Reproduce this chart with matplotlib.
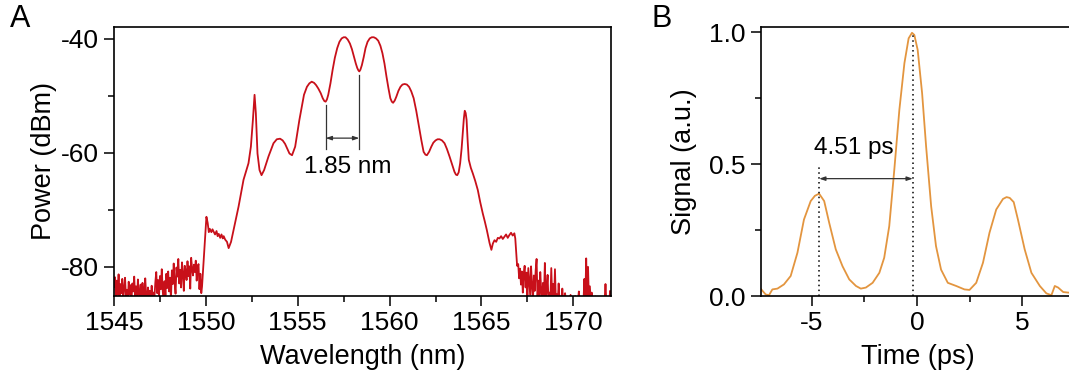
import numpy as np
import matplotlib
matplotlib.use("Agg")
import matplotlib.pyplot as plt
from matplotlib.ticker import MultipleLocator, FormatStrFormatter

plt.rcParams['font.family'] = ['Liberation Sans', 'DejaVu Sans']
plt.rcParams['axes.unicode_minus'] = False

# ---------------- Panel A data: optical spectrum ----------------
noise_left_start = 1545.0
noise_left_db = [
    -83.5, -81.8, -85.6, -82.4, -84.9, -81.3, -86.0, -83.0, -84.6, -82.1,
    -85.8, -83.7, -81.9, -85.2, -84.0, -86.2, -82.6, -84.8, -83.2, -85.9,
    -82.9, -84.3, -81.7, -85.5, -83.4, -86.1, -82.2, -84.7, -85.3, -83.1,
    -86.0, -82.8, -84.4, -85.7, -82.0, -84.9, -86.3, -83.6, -85.1, -84.2,
    -85.8, -83.3, -86.0, -84.5, -85.4, -82.7, -80.9, -84.6, -82.3, -85.2,
    -81.6, -83.9, -80.4, -84.1, -86.2, -82.5, -85.0, -81.2, -83.7, -80.8,
    -84.3, -81.9, -85.6, -80.6, -83.0, -79.4, -82.8, -84.7, -80.1, -81.7,
    -78.6, -82.9, -80.5, -83.6, -79.2, -81.1, -84.2, -79.8, -80.7, -82.3,
    -79.0, -81.6, -79.9, -83.8, -78.4, -80.3, -81.5, -79.6, -80.9, -78.9,
    -82.4, -80.1, -79.5, -83.9, -81.2, -84.6,
]

main_wl = [
    1549.79, 1549.88, 1550.03, 1550.10, 1550.16, 1550.21, 1550.30, 1550.36, 1550.42,
    1550.50, 1550.58, 1550.64, 1550.70, 1550.78, 1550.85, 1550.92, 1550.97, 1551.05,
    1551.15, 1551.24, 1551.37, 1551.51, 1551.78, 1552.05, 1552.32, 1552.45, 1552.56,
    1552.65, 1552.72, 1552.81, 1552.92, 1553.03, 1553.17, 1553.41, 1553.68, 1553.86,
    1554.04, 1554.18, 1554.31, 1554.55, 1554.69, 1554.86, 1555.09, 1555.34, 1555.50,
    1555.63, 1555.76, 1555.89, 1556.00, 1556.12, 1556.25, 1556.36, 1556.45, 1556.52,
    1556.59, 1556.66, 1556.78, 1556.90, 1557.02, 1557.15, 1557.27, 1557.39, 1557.50,
    1557.60, 1557.72, 1557.84, 1557.95, 1558.06, 1558.16, 1558.24, 1558.30, 1558.35,
    1558.41, 1558.49, 1558.59, 1558.69, 1558.80, 1558.92, 1559.03, 1559.14, 1559.26,
    1559.38, 1559.50, 1559.61, 1559.72, 1559.83, 1559.94, 1560.04, 1560.12, 1560.19,
    1560.28, 1560.37, 1560.48, 1560.59, 1560.70, 1560.82, 1560.94, 1561.06, 1561.18,
    1561.31, 1561.45, 1561.60, 1561.73, 1561.85, 1561.95, 1562.03, 1562.15, 1562.27,
    1562.38, 1562.50, 1562.61, 1562.72, 1562.85, 1562.99, 1563.12, 1563.26, 1563.40,
    1563.53, 1563.61, 1563.68, 1563.76, 1563.84, 1563.92, 1563.98, 1564.04, 1564.09,
    1564.14, 1564.19, 1564.25, 1564.31, 1564.42, 1564.53, 1564.66, 1564.80, 1564.93,
    1565.07, 1565.18, 1565.29, 1565.37, 1565.44, 1565.54, 1565.62, 1565.71, 1565.80,
    1565.89, 1565.98, 1566.07, 1566.16, 1566.25, 1566.34, 1566.43, 1566.52, 1566.61,
    1566.70, 1566.79, 1566.84, 1566.88, 1566.94,
]
main_db = [
    -83.5, -78.8, -71.2, -72.3, -73.9, -73.3, -73.9, -73.4, -73.8,
    -74.3, -73.7, -74.6, -74.2, -74.9, -74.3, -75.0, -74.6, -75.2,
    -75.6, -76.7, -75.6, -73.5, -69.4, -64.7, -61.8, -58.9, -54.2,
    -49.8, -53.0, -60.1, -63.0, -63.9, -63.0, -60.6, -58.3, -57.6,
    -57.5, -57.8, -58.4, -60.1, -60.4, -58.9, -54.2, -49.8, -48.4,
    -47.8, -47.5, -47.7, -48.1, -48.7, -49.5, -50.4, -50.9, -51.0,
    -50.6, -49.8, -47.8, -45.4, -43.3, -41.6, -40.5, -39.9, -39.7,
    -39.7, -40.1, -40.8, -41.8, -43.1, -44.3, -45.1, -45.5, -45.7,
    -45.4, -44.6, -43.2, -41.6, -40.5, -39.9, -39.7, -39.7, -39.9,
    -40.3, -41.2, -42.5, -44.3, -46.6, -48.7, -50.4, -51.0, -51.2,
    -50.8, -50.1, -49.1, -48.4, -48.0, -47.9, -48.0, -48.4, -49.2,
    -50.4, -52.6, -55.4, -57.8, -59.8, -60.3, -60.4, -59.8, -58.9,
    -58.2, -57.8, -57.6, -57.6, -57.8, -58.3, -59.3, -60.6, -62.0,
    -63.3, -63.8, -63.9, -63.4, -61.8, -59.2, -56.5, -54.0, -52.6,
    -53.0, -54.2, -58.0, -61.2, -62.6, -63.6, -64.9, -66.5, -68.6,
    -70.6, -72.0, -73.5, -74.7, -75.8, -77.0, -75.9, -75.3, -75.6,
    -74.9, -75.0, -74.6, -75.1, -74.7, -74.3, -74.9, -74.4, -74.0,
    -74.5, -74.1, -75.0, -77.0, -79.8,
]

noise_right_start = 1567.0
noise_right_db = [
    -79.5, -82.0, -80.3, -83.1, -80.8, -84.5, -81.2, -79.8, -83.6, -81.0,
    -85.4, -80.2, -82.7, -84.9, -79.9, -83.3, -86.0, -81.5, -84.2, -80.6,
    -78.6, -85.7, -82.4, -86.1, -80.9, -84.0, -86.2, -82.8, -85.5, -79.3,
    -86.0, -83.9, -81.4, -86.3, -84.5, -86.0, -80.2, -85.8, -83.0, -86.2,
    -80.4, -86.1, -84.8, -86.3, -82.9, -86.0, -85.2, -86.4, -83.8, -86.1,
    -86.3, -84.6, -86.2, -86.0, -85.5, -86.3, -86.1, -84.9, -86.4, -86.2,
    -86.3, -86.0, -85.1, -86.4, -86.2, -86.1, -84.3, -86.3, -86.0, -86.4,
    -86.2, -86.3, -82.1, -86.0, -78.5, -85.6, -80.0, -86.2, -83.4, -86.3,
    -84.5, -86.1, -86.4, -86.0, -85.2, -86.3, -86.2, -86.4, -86.1, -86.3,
    -86.0, -86.4, -86.2, -86.3, -86.1, -83.0, -86.4, -85.4, -86.2, -86.3,
    -84.2, -86.0,
]
noise_step = 0.05

# Annotation A
dip_left_wl, dip_right_wl = 1556.52, 1558.35
annot_a_text = "1.85 nm"

# ---------------- Panel B data: autocorrelation ----------------
time_ps = [
    -7.43, -7.19, -7.03, -6.87, -6.63, -6.32, -6.00, -5.68, -5.37, -5.05,
    -4.85, -4.65, -4.41, -4.17, -3.86, -3.54, -3.22, -2.90, -2.67, -2.43,
    -2.11, -1.79, -1.56, -1.32, -1.08, -0.84, -0.60, -0.40, -0.24, -0.13,
    0.03, 0.24, 0.43, 0.67, 0.90, 1.14, 1.46, 1.86, 2.25, 2.49,
    2.81, 3.13, 3.44, 3.76, 4.08, 4.25, 4.40, 4.59, 4.79, 5.11,
    5.43, 5.83, 6.14, 6.38, 6.54, 6.70, 6.94, 7.17, 7.40,
]
signal = [
    0.028, 0.006, 0.003, 0.025, 0.028, 0.044, 0.076, 0.164, 0.290, 0.360,
    0.380, 0.388, 0.360, 0.277, 0.177, 0.113, 0.063, 0.038, 0.028, 0.032,
    0.050, 0.088, 0.145, 0.265, 0.479, 0.706, 0.883, 0.977, 0.998, 0.990,
    0.933, 0.769, 0.567, 0.340, 0.189, 0.100, 0.050, 0.038, 0.025, 0.023,
    0.050, 0.126, 0.240, 0.328, 0.368, 0.375, 0.372, 0.356, 0.290, 0.177,
    0.088, 0.038, 0.010, 0.003, 0.038, 0.032, 0.015, 0.013, 0.012,
]
side_peak_t, main_peak_t = -4.65, -0.20
annot_b_text = "4.51 ps"

# ---------------- Figure ----------------
fig = plt.figure(figsize=(10.69, 3.77), dpi=100)
W, H = 1069, 377

def px_axes(l, r, t, b):
    return fig.add_axes([l / W, 1 - b / H, (r - l) / W, (b - t) / H])

axA = px_axes(114, 611, 27, 296)
axB = px_axes(761, 1075, 27, 296)

red = '#c8101a'
orange = '#e3953f'

TICK = 19
LAB = 19.5
ANN = 17.5

wl_left = noise_left_start + noise_step * np.arange(len(noise_left_db))
wl_right = noise_right_start + noise_step * np.arange(len(noise_right_db))
wl_all = np.concatenate([wl_left, main_wl, wl_right])
db_all = np.concatenate([noise_left_db, main_db, noise_right_db])
axA.plot(wl_all, db_all, color=red, lw=1.3)

axA.set_xlim(1545, 1572.05)
axA.set_ylim(-85.1, -37.9)
axA.xaxis.set_major_locator(MultipleLocator(5))
axA.xaxis.set_minor_locator(MultipleLocator(2.5))
axA.yaxis.set_major_locator(MultipleLocator(20))
axA.yaxis.set_minor_locator(MultipleLocator(10))
axA.set_xlabel("Wavelength (nm)", fontsize=LAB, labelpad=6)
axA.set_ylabel("Power (dBm)", fontsize=LAB, labelpad=3)

# annotation A
axA.plot([dip_left_wl, dip_left_wl], [-51.6, -59.3], color='#333333', lw=0.9)
axA.plot([dip_right_wl, dip_right_wl], [-46.3, -59.3], color='#333333', lw=0.9)
axA.annotate("", xy=(dip_left_wl, -57.4), xytext=(dip_right_wl, -57.4),
             arrowprops=dict(arrowstyle='<|-|>,head_length=0.35,head_width=0.12',
                             color='#333333', lw=0.9, shrinkA=0, shrinkB=0))
axA.text((dip_left_wl + dip_right_wl) / 2 + 0.3, -62.4, annot_a_text,
         fontsize=ANN, ha='center', va='center')

axB.plot(time_ps, signal, color=orange, lw=1.3)
axB.set_xlim(-7.41, 7.5)
axB.set_ylim(0, 1.02)
axB.xaxis.set_major_locator(MultipleLocator(5))
axB.xaxis.set_minor_locator(MultipleLocator(2.5))
axB.yaxis.set_major_locator(MultipleLocator(0.5))
axB.yaxis.set_minor_locator(MultipleLocator(0.25))
axB.yaxis.set_major_formatter(FormatStrFormatter('%.1f'))
axB.set_xlabel("Time (ps)", fontsize=LAB, labelpad=6)
axB.set_ylabel("Signal (a.u.)", fontsize=LAB, labelpad=9)
axB.spines['right'].set_visible(False)

dot = (0, (1, 2.2))
axB.plot([side_peak_t, side_peak_t], [0, 0.49], color='black', lw=1.1, ls=dot)
axB.plot([main_peak_t, main_peak_t], [0, 0.995], color='black', lw=1.1, ls=dot)
axB.annotate("", xy=(side_peak_t, 0.445), xytext=(main_peak_t, 0.445),
             arrowprops=dict(arrowstyle='<|-|>,head_length=0.35,head_width=0.12',
                             color='#333333', lw=0.9, shrinkA=0, shrinkB=0))
axB.text(-2.98, 0.56, annot_b_text, fontsize=ANN, ha='center', va='center')

for ax in (axA, axB):
    ax.tick_params(which='major', direction='out', length=7, width=1.1, labelsize=TICK,
                   top=False, right=False)
    ax.tick_params(which='minor', direction='out', length=4, width=1.1,
                   top=False, right=False)
    ax.tick_params(axis='x', which='major', pad=4)
    ax.tick_params(axis='y', which='major', pad=4)
    for s in ax.spines.values():
        s.set_linewidth(1.2)

fig.text(10 / W, 1 - 19 / H, "A", fontsize=22, ha='left', va='center')
fig.text(652 / W, 1 - 19 / H, "B", fontsize=22, ha='left', va='center')

fig.savefig("out.png", dpi=100)
